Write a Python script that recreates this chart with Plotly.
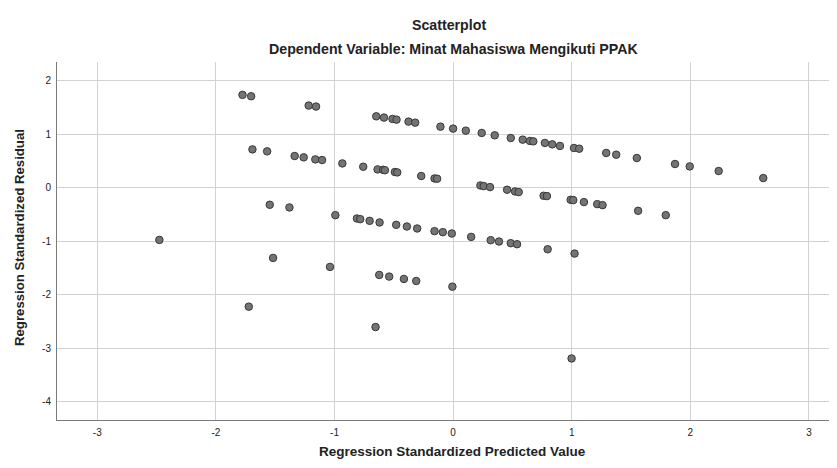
import plotly.graph_objects as go

# Regression Standardized Predicted Value
pred = [
    -1.776, -1.703, -1.218, -1.156, -0.648, -0.583, -0.511, -0.477, -0.376, -0.320,
    -0.107, 0.000, 0.107, 0.241, 0.351, 0.486, 0.587, 0.648, 0.676, 0.774,
    0.836, 0.901, 1.019, 1.063, 1.291, 1.375, 1.549, 1.871, 1.995, 2.239, 2.615,
    -1.692, -1.568, -1.336, -1.260, -1.162, -1.105, -0.934, -0.758, -0.637, -0.590,
    -0.575, -0.491, -0.471, -0.269, -0.157, -0.135, 0.230, 0.258, 0.311, 0.455,
    0.522, 0.553, 0.763, 0.791, 0.991, 1.013, 1.103, 1.215, 1.260, 1.560, 1.793,
    -1.546, -1.380, -2.477, -0.993, -0.811, -0.783, -0.704, -0.620, -0.480, -0.390,
    -0.303, -0.157, -0.087, -0.011, 0.152, 0.317, 0.387, 0.486, 0.539, 0.797, 1.024,
    -1.518, -1.038, -0.623, -0.539, -0.415, -0.311, -0.006, -1.723, -0.654, 0.999,
]
# Regression Standardized Residual
resid = [
    1.736, 1.710, 1.536, 1.517, 1.335, 1.311, 1.286, 1.273, 1.236, 1.217,
    1.142, 1.105, 1.067, 1.024, 0.980, 0.930, 0.899, 0.874, 0.867, 0.837,
    0.811, 0.781, 0.743, 0.730, 0.650, 0.618, 0.556, 0.444, 0.399, 0.313, 0.181,
    0.717, 0.680, 0.593, 0.568, 0.530, 0.518, 0.455, 0.393, 0.343, 0.335,
    0.328, 0.294, 0.287, 0.219, 0.174, 0.169, 0.043, 0.031, 0.012, -0.037,
    -0.069, -0.081, -0.150, -0.156, -0.225, -0.231, -0.268, -0.306, -0.325, -0.431, -0.512,
    -0.318, -0.368, -0.974, -0.512, -0.574, -0.587, -0.618, -0.649, -0.693, -0.724,
    -0.761, -0.811, -0.830, -0.855, -0.918, -0.980, -1.005, -1.036, -1.055, -1.149, -1.230,
    -1.311, -1.479, -1.629, -1.660, -1.704, -1.742, -1.848, -2.222, -2.603, -3.190,
]

x_ticks = [-3, -2, -1, 0, 1, 2, 3]
y_ticks = [-4, -3, -2, -1, 0, 1, 2]

# page body has an 8px margin: figure pixel = screen pixel - 8
OFF = 8
W, H = 837 - OFF, 468 - OFF
ML, MT = 57 - OFF, 62 - OFF
MR = W - (835 - OFF)
MB = H - (420 - OFF)

fig = go.Figure()
fig.add_trace(go.Scatter(
    x=pred, y=resid, mode="markers",
    marker=dict(size=7.5, color="#747474", line=dict(color="#383838", width=1)),
    showlegend=False,
))

font = "Liberation Sans, Arial, sans-serif"
txt = "#222222"
fig.update_layout(
    width=W, height=H,
    margin=dict(l=ML, r=MR, t=MT, b=MB, autoexpand=False),
    paper_bgcolor="white", plot_bgcolor="white",
    font=dict(family=font, color=txt),
    xaxis=dict(
        range=[-3.34, 3.22], tickvals=x_ticks, ticktext=[str(v) for v in x_ticks],
        showgrid=True, gridcolor="#d2d2d2", gridwidth=1, zeroline=False,
        showline=True, linecolor="#7a7a7a", linewidth=1, automargin=False,
        tickfont=dict(size=10, family=font, color=txt), ticks="outside",
        ticklen=3, tickcolor="white",
    ),
    yaxis=dict(
        range=[-4.34, 2.35], tickvals=y_ticks, ticktext=[str(v) for v in y_ticks],
        showgrid=True, gridcolor="#d2d2d2", gridwidth=1, zeroline=False,
        showline=True, linecolor="#7a7a7a", linewidth=1, automargin=False,
        tickfont=dict(size=10, family=font, color=txt), ticks="outside",
        ticklen=3, tickcolor="white",
    ),
)

plot_w = W - ML - MR
plot_h = H - MT - MB


def px_x(sx):
    return (sx - OFF - ML) / plot_w


def px_y(sy):
    return (H - MB - (sy - OFF)) / plot_h


annotations = [
    dict(text="<b>Scatterplot</b>", x=px_x(449), y=px_y(25), size=14.2, angle=0),
    dict(text="<b>Dependent Variable: Minat Mahasiswa Mengikuti PPAK</b>",
         x=px_x(453), y=px_y(49), size=14.2, angle=0),
    dict(text="<b>Regression Standardized Predicted Value</b>",
         x=px_x(452), y=px_y(451), size=13.5, angle=0),
    dict(text="<b>Regression Standardized Residual</b>",
         x=px_x(19), y=px_y(238), size=13.2, angle=-90),
]
for a in annotations:
    fig.add_annotation(text=a["text"], x=a["x"], y=a["y"], xref="paper", yref="paper",
                       xanchor="center", yanchor="middle", showarrow=False,
                       textangle=a["angle"],
                       font=dict(size=a["size"], family=font, color=txt))

fig.write_html("out.html")
